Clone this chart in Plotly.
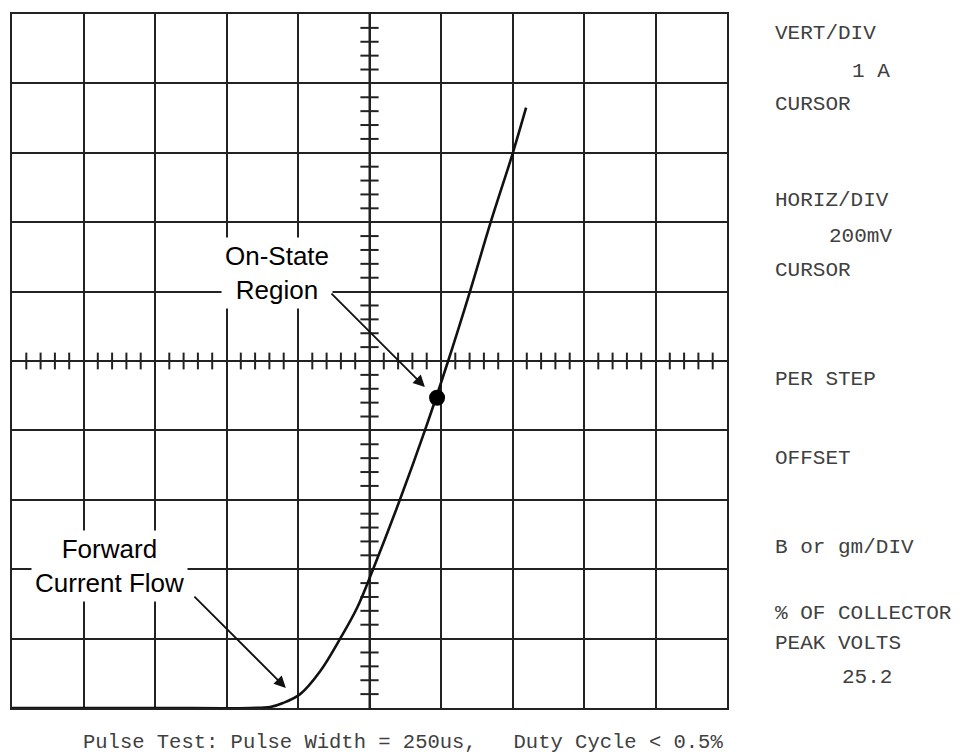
import plotly.graph_objects as go

# ---- data ----
# Forward voltage (V), 200 mV/div, and forward current (A), 1 A/div
curve_v = [0.0, 0.40, 0.666, 0.722, 0.758, 0.806, 0.862, 0.918, 0.965, 1.010,
           1.085, 1.155, 1.220, 1.281, 1.339, 1.401, 1.438]
curve_i = [0.0, 0.0, 0.0, 0.014, 0.072, 0.20, 0.53, 1.00, 1.44, 2.00,
           3.00, 4.00, 5.00, 6.00, 7.00, 8.00, 8.65]
onstate_v = [1.189]
onstate_i = [4.47]

x_range = [0.0, 2.0]
y_range = [0.0, 10.0]
x_div = 0.2
y_div = 1.0
n_sub = 5

side_labels = [
    ("VERT/DIV", 773, 33), ("1 A", 850, 71), ("CURSOR", 773, 104),
    ("HORIZ/DIV", 773, 200), ("200mV", 827, 237), ("CURSOR", 773, 270),
    ("PER STEP", 773, 379), ("OFFSET", 773, 458), ("B or gm/DIV", 773, 547),
    ("% OF COLLECTOR", 773, 613), ("PEAK VOLTS", 773, 643), ("25.2", 840, 677),
]
footer = "Pulse Test: Pulse Width = 250us,   Duty Cycle < 0.5%"

# page body has an 8px margin
OFF = 8
W, H = 962 - OFF, 755 - OFF
L, R, T, B = 12 - OFF, 727 - OFF, 14 - OFF, 708 - OFF

def px_to_paper(px, py):
    return (px - OFF - L) / (R - L), (B - (py - OFF)) / (B - T)

# graticule sub-division ticks on the centre lines
xc = (x_range[0] + x_range[1]) / 2
yc = (y_range[0] + y_range[1]) / 2
ny = int(round((y_range[1] - y_range[0]) / y_div)) * n_sub
nx = int(round((x_range[1] - x_range[0]) / x_div)) * n_sub
vt_y = [y_range[0] + k * y_div / n_sub for k in range(1, ny) if k % n_sub]
ht_x = [x_range[0] + k * x_div / n_sub for k in range(1, nx) if k % n_sub]

fig = go.Figure()
fig.add_trace(go.Scatter(x=[xc] * len(vt_y), y=vt_y, mode="markers",
                         marker=dict(symbol="line-ew", size=13,
                                     line=dict(color="#222", width=2)),
                         hoverinfo="skip", showlegend=False))
fig.add_trace(go.Scatter(x=ht_x, y=[yc] * len(ht_x), mode="markers",
                         marker=dict(symbol="line-ns", size=12,
                                     line=dict(color="#222", width=2)),
                         hoverinfo="skip", showlegend=False))
fig.add_trace(go.Scatter(x=[xc, xc], y=y_range, mode="lines",
                         line=dict(color="#222", width=2),
                         hoverinfo="skip", showlegend=False))
fig.add_trace(go.Scatter(x=x_range, y=[yc, yc], mode="lines",
                         line=dict(color="#222", width=2),
                         hoverinfo="skip", showlegend=False))

fig.add_trace(go.Scatter(x=curve_v, y=curve_i, mode="lines",
                         line=dict(color="#111", width=2.6, shape="spline",
                                   smoothing=1.0),
                         showlegend=False))
fig.add_trace(go.Scatter(x=onstate_v, y=onstate_i, mode="markers",
                         marker=dict(color="#000", size=16),
                         showlegend=False))

label_font = dict(family="Liberation Sans, Arial, sans-serif", size=26, color="#000")
fig.add_annotation(x=0.741, y=6.27, xref="x", yref="y", text="On-State<br>Region",
                   showarrow=False, font=label_font, bgcolor="white",
                   borderpad=3)
fig.add_annotation(x=0.274, y=2.05, xref="x", yref="y", text="Forward<br>Current Flow",
                   showarrow=False, font=label_font, bgcolor="white",
                   borderpad=3)
# arrows
fig.add_annotation(x=1.155, y=4.625, ax=0.8895, ay=5.994, xref="x", yref="y",
                   axref="x", ayref="y", text="", showarrow=True,
                   arrowhead=2, arrowsize=1.3, arrowwidth=1.8, arrowcolor="#111")
fig.add_annotation(x=0.766, y=0.288, ax=0.506, ay=1.628, xref="x", yref="y",
                   axref="x", ayref="y", text="", showarrow=True,
                   arrowhead=2, arrowsize=1.3, arrowwidth=1.8, arrowcolor="#111")

mono = dict(family="Liberation Mono, DejaVu Sans Mono, monospace", size=21, color="#404040")
for txt, px, py in side_labels:
    xp, yp = px_to_paper(px, py)
    fig.add_annotation(x=xp, y=yp, xref="paper", yref="paper", text=txt,
                       showarrow=False, xanchor="left", yanchor="middle",
                       font=mono)
xp, yp = px_to_paper(403, 742)
fig.add_annotation(x=xp, y=yp, xref="paper", yref="paper", text=footer,
                   showarrow=False, xanchor="center", yanchor="middle",
                   font=dict(mono, size=20.5))

axis_common = dict(showgrid=True, gridcolor="#222", gridwidth=1.6,
                   zeroline=False, showticklabels=False, ticks="",
                   showline=True, linecolor="#222", linewidth=2, mirror=True,
                   fixedrange=True)
fig.update_xaxes(range=x_range, dtick=x_div, tick0=0, **axis_common)
fig.update_yaxes(range=y_range, dtick=y_div, tick0=0, **axis_common)

fig.update_layout(width=W, height=H, autosize=False,
                  margin=dict(l=L, r=W - R, t=T, b=H - B),
                  plot_bgcolor="white", paper_bgcolor="white",
                  showlegend=False)

fig.write_html("out.html")
